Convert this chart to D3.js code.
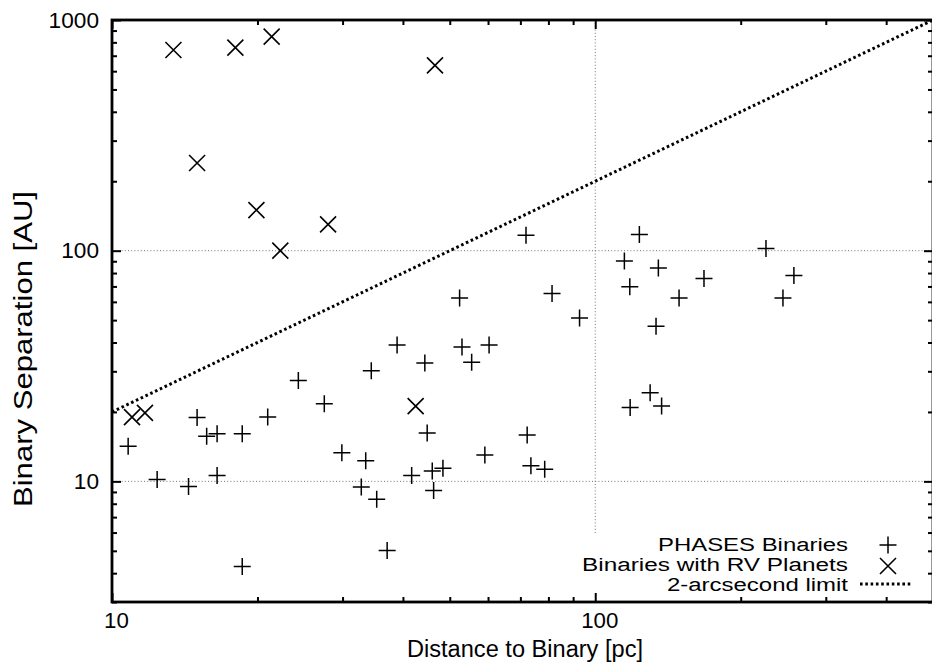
<!DOCTYPE html>
<html>
<head>
<meta charset="utf-8">
<script src="https://cdn.jsdelivr.net/npm/d3@7/dist/d3.min.js"></script>
<style>
  html, body { margin: 0; padding: 0; background: #fff; }
  svg { display: block; font-family: "Liberation Sans", Arial, Helvetica, sans-serif; }
</style>
</head>
<body>
<svg id="chart" width="932" height="665"></svg>
<script>
// ---- data ----
// PHASES binaries: distance [pc], separation [AU]
const phasesDist = [10.8, 12.4, 14.4, 15.0, 15.7, 16.5, 16.5, 18.6, 18.6, 21.0, 24.3, 27.5,
  38.9, 34.4, 44.4, 53.0, 60.3, 55.5, 44.9, 29.9, 33.5, 41.7, 46.0, 48.4, 32.8, 35.3, 46.3,
  37.1, 59.1, 72.3, 73.6, 78.6, 71.9, 52.4, 81.4, 92.8, 123.4, 114.9, 135.1, 117.9, 149.1,
  167.9, 225.6, 257.7, 244.6, 133.6, 129.9, 118.1, 137.2];
const phasesSep = [14.2, 10.2, 9.5, 18.9, 15.7, 16.1, 10.6, 16.1, 4.28, 19.0, 27.4, 21.7,
  39.0, 30.2, 32.6, 38.2, 39.0, 32.8, 16.2, 13.3, 12.3, 10.6, 11.1, 11.4, 9.45, 8.36, 9.14,
  5.02, 13.0, 15.9, 11.7, 11.3, 116.7, 62.4, 65.2, 51.1, 117.6, 90.3, 84.2, 69.7, 62.4,
  75.7, 102.2, 78.0, 62.4, 47.0, 24.2, 20.9, 21.2];
// Binaries with RV planets
const rvDist = [13.4, 18.0, 21.4, 46.6, 15.0, 19.9, 22.3, 28.0, 11.0, 11.7, 42.5];
const rvSep  = [741, 759, 847, 636, 240, 150, 100, 130, 19.0, 19.8, 21.2];
// 2-arcsecond limit: separation = 2 * distance
const limitDist = [10, 500];
const limitSep  = [20, 1000];

const xMajor = [10, 100];
const xMinor = [20, 30, 40, 50, 60, 70, 80, 90, 200, 300, 400];
const yMajor = [10, 100, 1000];
const yMinor = [3, 4, 5, 6, 7, 8, 9, 20, 30, 40, 50, 60, 70, 80, 90, 200, 300, 400, 500, 600, 700, 800, 900];
const xGrid = [100];
const yGrid = [10, 100];

const legendLabels = ["PHASES Binaries", "Binaries with RV Planets", "2-arcsecond limit"];

// ---- layout ----
const L = 112, R = 933, T = 20, B = 602;
const svg = d3.select("#chart");
const x = d3.scaleLog().domain([10, 500]).range([L, R]);
const y = d3.scaleLog().domain([3, 1000]).range([B, T]);

// grid
const grid = svg.append("g").attr("stroke", "#666").attr("stroke-width", 0.9)
  .attr("stroke-dasharray", "1,2.2").attr("fill", "none");
yGrid.forEach(v => grid.append("line").attr("x1", L).attr("x2", R).attr("y1", y(v)).attr("y2", y(v)));
xGrid.forEach(v => grid.append("line").attr("x1", x(v)).attr("x2", x(v)).attr("y1", T).attr("y2", 535));

// axes
function styleAxis(g) {
  g.select(".domain").remove();
  g.selectAll(".tick line").attr("stroke", "#000").attr("stroke-width", 2);
  g.selectAll(".tick text").attr("fill", "#000").attr("font-size", 22)
    .attr("font-family", "'Liberation Sans', Arial, sans-serif");
}
svg.append("g").attr("transform", `translate(0,${B})`)
  .call(d3.axisBottom(x).tickValues(xMinor).tickSize(-5).tickFormat(""))
  .call(styleAxis);
svg.append("g").attr("transform", `translate(0,${B})`)
  .call(d3.axisBottom(x).tickValues(xMajor).tickSize(-9).tickPadding(10).tickFormat(d3.format("d")))
  .call(styleAxis)
  .call(g => g.selectAll(".tick text").attr("dx", 4).attr("textLength", function(d){ return String(d).length * 12.4; }).attr("lengthAdjust", "spacingAndGlyphs"));
svg.append("g").attr("transform", `translate(0,${T})`)
  .call(d3.axisTop(x).tickValues(xMinor).tickSize(-5).tickFormat(""))
  .call(styleAxis);
svg.append("g").attr("transform", `translate(0,${T})`)
  .call(d3.axisTop(x).tickValues(xMajor).tickSize(-9).tickFormat(""))
  .call(styleAxis);

svg.append("g").attr("transform", `translate(${L},0)`)
  .call(d3.axisLeft(y).tickValues(yMinor).tickSize(-5).tickFormat(""))
  .call(styleAxis);
svg.append("g").attr("transform", `translate(${L},0)`)
  .call(d3.axisLeft(y).tickValues(yMajor).tickSize(-9).tickPadding(13).tickFormat(d3.format("d")))
  .call(styleAxis)
  .call(g => g.selectAll(".tick text").attr("textLength", function(d){ return String(d).length * 12.6; }).attr("lengthAdjust", "spacingAndGlyphs"));
svg.append("g").attr("transform", `translate(${R},0)`)
  .call(d3.axisRight(y).tickValues(yMinor).tickSize(-5).tickFormat(""))
  .call(styleAxis);
svg.append("g").attr("transform", `translate(${R},0)`)
  .call(d3.axisRight(y).tickValues(yMajor).tickSize(-9).tickFormat(""))
  .call(styleAxis);

// frame
svg.append("rect").attr("x", L).attr("y", T).attr("width", R - L).attr("height", B - T)
  .attr("fill", "none").attr("stroke", "#000").attr("stroke-width", 2.8);

// 2-arcsecond limit line
const limitData = limitDist.map((d, i) => [d, limitSep[i]]);
svg.append("path").datum(limitData)
  .attr("d", d3.line().x(d => x(d[0])).y(d => y(d[1])))
  .attr("fill", "none").attr("stroke", "#000").attr("stroke-width", 3)
  .attr("stroke-dasharray", "2.6,2.7");

// markers
const plusPath = "M-8.5,0H8.5M0,-8.5V8.5";
const crossPath = "M-8,-8L8,8M-8,8L8,-8";
const phases = phasesDist.map((d, i) => [d, phasesSep[i]]);
const rv = rvDist.map((d, i) => [d, rvSep[i]]);
svg.append("g").selectAll("path").data(phases).join("path")
  .attr("transform", d => `translate(${x(d[0])},${y(d[1])})`)
  .attr("d", plusPath).attr("stroke", "#000").attr("stroke-width", 1.5).attr("fill", "none");
svg.append("g").selectAll("path").data(rv).join("path")
  .attr("transform", d => `translate(${x(d[0])},${y(d[1])})`)
  .attr("d", crossPath).attr("stroke", "#000").attr("stroke-width", 1.6).attr("fill", "none");

// legend
const legW = [190, 266, 181];
const legY = [551, 571, 591];
const leg = svg.append("g");
legendLabels.forEach((t, i) => {
  leg.append("text").attr("x", 848).attr("y", legY[i]).attr("text-anchor", "end")
    .attr("font-size", 18).attr("fill", "#000")
    .attr("textLength", legW[i]).attr("lengthAdjust", "spacingAndGlyphs").text(t);
});
leg.append("path").attr("transform", "translate(888,545)").attr("d", plusPath)
  .attr("stroke", "#000").attr("stroke-width", 1.5).attr("fill", "none");
leg.append("path").attr("transform", "translate(888,566)").attr("d", crossPath)
  .attr("stroke", "#000").attr("stroke-width", 1.6).attr("fill", "none");
leg.append("line").attr("x1", 860).attr("x2", 912).attr("y1", 584).attr("y2", 584)
  .attr("stroke", "#000").attr("stroke-width", 3).attr("stroke-dasharray", "2.6,2.7");

// axis titles
svg.append("text").attr("x", 525).attr("y", 656.5).attr("text-anchor", "middle")
  .attr("font-size", 23).attr("fill", "#000")
  .attr("textLength", 236).attr("lengthAdjust", "spacingAndGlyphs")
  .text("Distance to Binary [pc]");
svg.append("text").attr("transform", "translate(32,349) rotate(-90)").attr("text-anchor", "middle")
  .attr("font-size", 25).attr("fill", "#000")
  .attr("textLength", 316).attr("lengthAdjust", "spacingAndGlyphs")
  .text("Binary Separation [AU]");
</script>
</body>
</html>
